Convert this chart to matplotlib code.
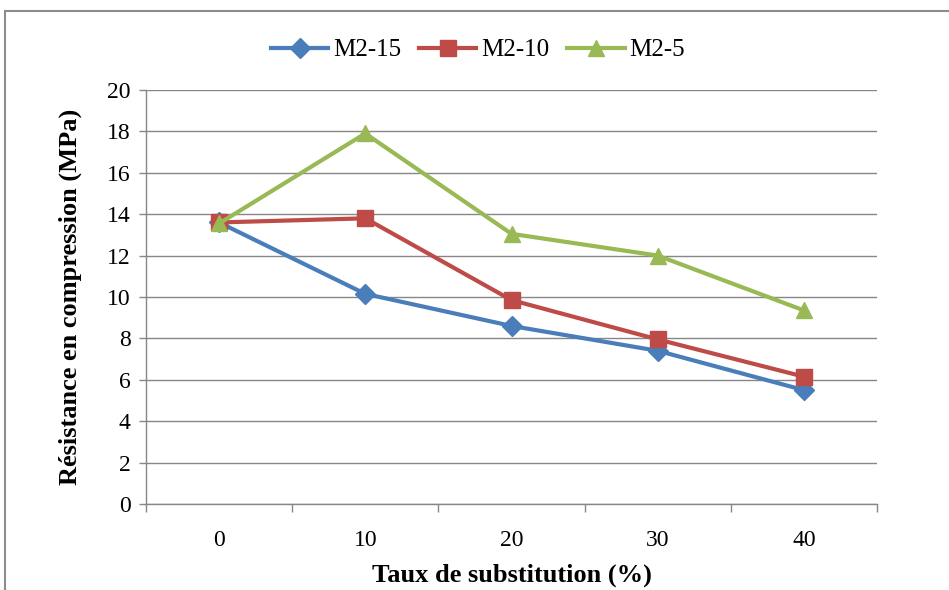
import matplotlib.pyplot as plt
from matplotlib.patches import Rectangle
import numpy as np

plt.rcParams['font.family'] = ['Liberation Serif', 'DejaVu Serif']

# data
categories = ['0', '10', '20', '30', '40']
m2_15 = [13.6, 10.15, 8.6, 7.4, 5.5]
m2_10 = [13.6, 13.8, 9.85, 7.95, 6.15]
m2_5 = [13.55, 17.9, 13.05, 12.0, 9.35]

x = np.arange(len(categories))

fig = plt.figure(figsize=(9.49, 5.90), dpi=100)
ax = fig.add_axes([0.1538, 0.1458, 0.7704, 0.7017])

# outer chart border
fig.patches.append(Rectangle((5 / 949, -0.05), 1.1, 1 - 11 / 590 + 0.05,
                             transform=fig.transFigure, fill=False,
                             edgecolor='#8c8c8c', linewidth=1.5))

ax.plot(x, m2_15, '-D', color='#4A7EBB', lw=3, ms=10, label='M2-15', zorder=3)
ax.plot(x, m2_10, '-s', color='#BE4B48', lw=3, ms=11, label='M2-10', zorder=4)
ax.plot(x, m2_5, '-^', color='#98B954', lw=3, ms=12, label='M2-5', zorder=5)

ax.set_xlim(-0.5, len(categories) - 0.5)
ax.set_ylim(0, 20)
ax.set_yticks(np.arange(0, 21, 2))
ax.set_xticks(x)
ax.set_xticklabels(categories)
ax.set_xticks(np.arange(-0.5, len(categories), 1), minor=True)
ax.tick_params(axis='x', which='major', length=0, pad=19, labelsize=17)
ax.tick_params(axis='x', which='minor', length=6, color='#878787', width=1)
ax.tick_params(axis='y', length=5, color='#878787', width=1, labelsize=17, pad=6)

ax.grid(axis='y', color='#878787', lw=1)
ax.set_axisbelow(True)
for s in ['top', 'right']:
    ax.spines[s].set_visible(False)
for s in ['left', 'bottom']:
    ax.spines[s].set_color('#878787')
    ax.spines[s].set_linewidth(1)

ax.set_xlabel('Taux de substitution (%)', fontsize=19, fontweight='bold', labelpad=9)
ax.set_ylabel('Résistance en compression (MPa)', fontsize=19, fontweight='bold', labelpad=18)

fig.legend(loc='center', bbox_to_anchor=(478 / 949, 1 - 50 / 590), ncol=3,
           frameon=False, fontsize=18, handlelength=2.3, handletextpad=0.2,
           columnspacing=0.7)

fig.savefig('out.png', dpi=100)
